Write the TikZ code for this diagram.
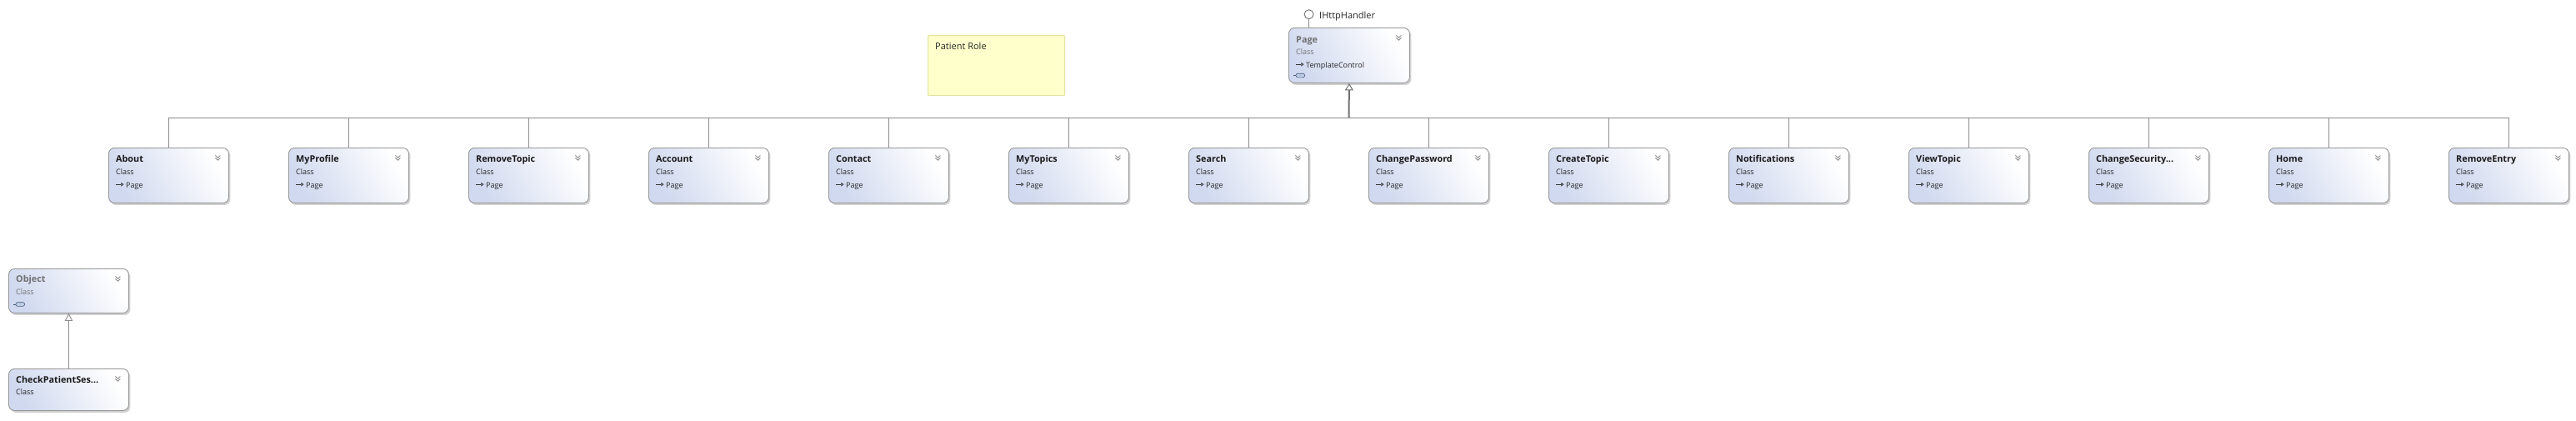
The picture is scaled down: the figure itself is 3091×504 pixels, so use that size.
\documentclass[tikz,border=0pt]{standalone}
\usepackage{fontspec}
\setmainfont{Open Sans}
\usetikzlibrary{arrows.meta,shadows,calc}
\definecolor{boxblue}{RGB}{208,217,239}
\definecolor{boxborder}{RGB}{150,150,150}
\definecolor{linegray}{RGB}{140,140,140}
\definecolor{trunkgray}{RGB}{112,112,112}
\definecolor{greytext}{RGB}{112,112,112}
\definecolor{notefill}{RGB}{255,255,204}
\definecolor{noteborder}{RGB}{226,226,160}
\definecolor{iconfill}{RGB}{190,205,230}
\definecolor{iconline}{RGB}{70,90,120}
\newcommand\tdots{...}
\tikzset{
  cbox/.style={rectangle, draw=boxborder, line width=0.9pt, rounded corners=7pt,
    top color=white, bottom color=boxblue, shading angle=-60,
    minimum width=144pt, inner sep=0pt, anchor=north west,
    drop shadow={shadow xshift=2pt, shadow yshift=-2.5pt, opacity=0.3, fill=black!60}},
  ctitle/.style={anchor=base west, inner sep=0pt, font=\fontsize{10.8}{13}\selectfont\bfseries, text=black!90},
  csub/.style={anchor=base west, inner sep=0pt, font=\fontsize{9}{11}\selectfont, text=black!85},
  gtitle/.style={ctitle, text=greytext},
  gsub/.style={csub, text=black!55},
  conn/.style={draw=linegray, line width=1pt},
  chev/.style={draw=black!45, line width=0.9pt},
  inhglyph/.style={draw=black!80, line width=0.7pt, -{Triangle[open, length=3.2pt, width=4.6pt]}},
}
\newcommand\chevrons[1]{%
  \draw[chev] ($(#1.north east)+(-16.5,9.5)$) -- ++(3,2.8) -- ++(3,-2.8);
  \draw[chev] ($(#1.north east)+(-16.5,12.4)$) -- ++(3,2.8) -- ++(3,-2.8);
}
\newcommand\collapseicon[2]{%
  \draw[line width=0.6pt, draw=iconline] ($(#1.north west)+(6,#2)$) -- ++(3,0);
  \draw[line width=0.6pt, draw=iconline, fill=iconfill, rounded corners=2pt]
    ($(#1.north west)+(9,#2-2.3)$) rectangle ++(10.5,4.6);
}
\begin{document}
\begin{tikzpicture}[x=1pt,y=-1pt]
\useasboundingbox (0,0) rectangle (3091,504);
% note
\node[rectangle, draw=noteborder, fill=notefill, line width=1.2pt, rounded corners=1pt,
  minimum width=164pt, minimum height=72pt, anchor=north west, inner sep=0pt] (note) at (1113,42) {};
\node[anchor=base west, inner sep=0pt, font=\fontsize{11}{13}\selectfont, text=black!85] (notet) at (1122,59.3) {Patient Role};
% Page box
\node[cbox, minimum width=145pt, minimum height=66pt] (page) at (1546,33) {};
\node[gtitle] (page-t) at ($(page.north west)+(9,18)$) {Page};
\node[gsub] (page-k) at ($(page.north west)+(9,32)$) {Class};
\draw[inhglyph] ($(page.north west)+(9,44.2)$) -- ++(9.5,0);
\node[csub] (page-b) at ($(page.north west)+(21,48)$) {TemplateControl};
\collapseicon{page}{57.5}
\chevrons{page}
% lollipop
\node[circle, draw=black!55, fill=white, line width=0.9pt, minimum size=11pt, inner sep=0pt] (ih) at (1570.6,17.2) {};
\draw[conn] (ih.south) -- (ih.south |- page.north);
\node[anchor=base west, inner sep=0pt, font=\fontsize{11}{13}\selectfont, text=black!85] (ihl) at (1583,22.7) {IHttpHandler};
% bus
\coordinate (bus) at (1618.5,141);
% children
\foreach \t [count=\i from 0] in {About,MyProfile,RemoveTopic,Account,Contact,MyTopics,Search,ChangePassword,CreateTopic,Notifications,ViewTopic,ChangeSecurity\tdots,Home,RemoveEntry}{
  \pgfmathsetmacro\xx{130+216*\i}
  \node[cbox, minimum height=66pt] (c\i) at (\xx,177) {};
  \node[ctitle] (c\i-t) at ($(c\i.north west)+(9,17)$) {\t};
  \node[csub] (c\i-k) at ($(c\i.north west)+(9,32)$) {Class};
  \draw[inhglyph] ($(c\i.north west)+(9,44.2)$) -- ++(9.5,0);
  \node[csub] (c\i-b) at ($(c\i.north west)+(21,48)$) {Page};
  \chevrons{c\i}
  \draw[conn] (c\i.north) |- (bus);
}
\draw[draw=trunkgray, line width=2pt, -{Triangle[open, length=8.5pt, width=10pt, line width=1pt]}] (bus) -- (page.south);
% Object and CheckPatientSession
\node[cbox, minimum height=53pt] (obj) at (10,322) {};
\node[gtitle] (obj-t) at ($(obj.north west)+(9,16.5)$) {Object};
\node[gsub] (obj-k) at ($(obj.north west)+(9,31)$) {Class};
\collapseicon{obj}{43}
\chevrons{obj}
\node[cbox, minimum height=50pt] (cps) at (10,442) {};
\node[ctitle] (cps-t) at ($(cps.north west)+(9,17.5)$) {CheckPatientSes\tdots};
\node[csub] (cps-k) at ($(cps.north west)+(9,31.5)$) {Class};
\chevrons{cps}
\draw[conn, -{Triangle[open, length=9pt, width=9.5pt, line width=0.9pt]}] (cps.north) -- (obj.south);
\end{tikzpicture}
\end{document}
